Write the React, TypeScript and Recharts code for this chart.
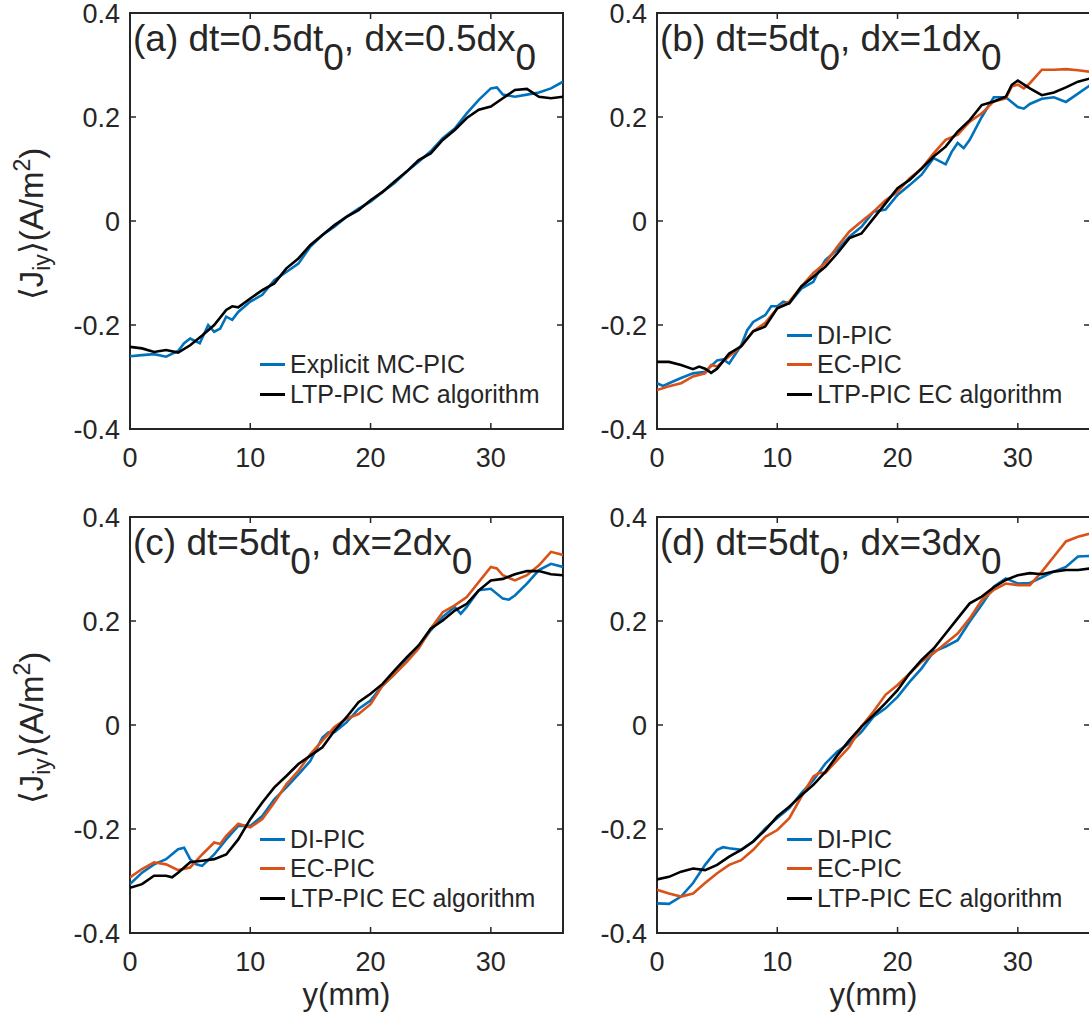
import React from "react";
import { LineChart, Line, XAxis, YAxis, ReferenceArea, Legend } from "recharts";

// ---------- data ----------
const xTicks = [0, 10, 20, 30];
const yTicks = [-0.4, -0.2, 0, 0.2, 0.4];

// (a) dt=0.5dt0, dx=0.5dx0
const aExplicit: [number, number][] = [
  [0, -0.26], [1, -0.258], [2, -0.256], [3, -0.261], [4, -0.25], [4.5, -0.235], [5, -0.226], [5.8, -0.235],
  [6.5, -0.2], [7, -0.213], [7.5, -0.207], [8, -0.184], [8.5, -0.19], [9, -0.175], [10, -0.155], [11, -0.142],
  [12, -0.114], [13, -0.098], [14, -0.082], [15, -0.049], [16, -0.027], [17, -0.011], [18, 0.008], [19, 0.024],
  [20, 0.037], [21, 0.056], [22, 0.073], [23, 0.095], [24, 0.114], [25, 0.134], [26, 0.159], [27, 0.178],
  [28, 0.207], [29, 0.233], [30, 0.255], [30.5, 0.257], [31, 0.243], [32, 0.239], [33, 0.243], [34, 0.247],
  [35, 0.255], [36, 0.268],
];
const aLtpMC: [number, number][] = [
  [0, -0.242], [1, -0.245], [2, -0.252], [3, -0.248], [4, -0.253], [5, -0.239], [6, -0.22], [7, -0.2],
  [8, -0.171], [8.5, -0.164], [9, -0.166], [10, -0.149], [11, -0.133], [12, -0.12], [13, -0.091], [14, -0.072],
  [15, -0.046], [16, -0.027], [17, -0.008], [18, 0.008], [19, 0.021], [20, 0.04], [21, 0.056], [22, 0.076],
  [23, 0.095], [24, 0.117], [25, 0.13], [26, 0.156], [27, 0.175], [28, 0.198], [29, 0.214], [30, 0.22],
  [31, 0.236], [32, 0.252], [33, 0.254], [34, 0.239], [35, 0.236], [36, 0.239],
];

// (b) dt=5dt0, dx=1dx0
const bDI: [number, number][] = [
  [0, -0.312], [0.5, -0.317], [1, -0.312], [2, -0.302], [3, -0.293], [4, -0.29], [5, -0.268], [5.5, -0.266],
  [6, -0.274], [7, -0.239], [7.5, -0.21], [8, -0.194], [9, -0.181], [9.5, -0.164], [10, -0.164], [10.5, -0.155],
  [11, -0.158], [12, -0.13], [13, -0.117], [13.5, -0.094], [14, -0.075], [15, -0.055], [16, -0.03], [17, -0.011],
  [18, 0.018], [19, 0.022], [20, 0.05], [21, 0.069], [22, 0.089], [23, 0.121], [24, 0.109], [24.5, 0.133],
  [25, 0.15], [25.5, 0.14], [26, 0.156], [27, 0.2], [28, 0.238], [29, 0.238], [30, 0.219], [30.5, 0.216],
  [31, 0.225], [32, 0.235], [33, 0.238], [34, 0.229], [35, 0.245], [36, 0.261],
];
const bEC: [number, number][] = [
  [0, -0.325], [1, -0.318], [2, -0.312], [3, -0.299], [4, -0.293], [4.5, -0.277], [5, -0.28], [6, -0.26],
  [7, -0.241], [8, -0.212], [9, -0.196], [10, -0.168], [11, -0.155], [12, -0.126], [13, -0.1], [14, -0.081],
  [15, -0.049], [16, -0.02], [17, -0.001], [18, 0.018], [19, 0.04], [20, 0.056], [21, 0.082], [22, 0.101],
  [23, 0.13], [24, 0.156], [25, 0.166], [26, 0.191], [27, 0.207], [28, 0.23], [29, 0.236], [29.5, 0.259],
  [30, 0.262], [30.5, 0.255], [31, 0.265], [32, 0.291], [33, 0.291], [34, 0.292], [35, 0.29], [36, 0.287],
];
const bLTP: [number, number][] = [
  [0, -0.271], [1, -0.271], [2, -0.277], [3, -0.285], [3.5, -0.28], [4, -0.284], [4.5, -0.292], [5, -0.284],
  [6, -0.255], [7, -0.241], [8, -0.212], [9, -0.203], [10, -0.168], [11, -0.158], [12, -0.126], [13, -0.107],
  [14, -0.088], [15, -0.062], [16, -0.033], [17, -0.024], [18, 0.005], [19, 0.034], [20, 0.063], [21, 0.079],
  [22, 0.101], [23, 0.124], [24, 0.143], [25, 0.172], [26, 0.194], [27, 0.223], [28, 0.23], [29, 0.239],
  [29.5, 0.262], [30, 0.27], [31, 0.255], [32, 0.242], [33, 0.247], [34, 0.257], [35, 0.268], [36, 0.274],
];

// (c) dt=5dt0, dx=2dx0
const cDI: [number, number][] = [
  [0, -0.306], [1, -0.284], [2, -0.268], [3, -0.258], [4, -0.239], [4.5, -0.236], [5, -0.258], [5.5, -0.268],
  [6, -0.271], [7, -0.249], [8, -0.22], [9, -0.194], [10, -0.194], [11, -0.175], [12, -0.143], [13, -0.12],
  [14, -0.095], [15, -0.069], [16, -0.024], [16.5, -0.014], [17, -0.014], [18, 0.005], [19, 0.031], [20, 0.047],
  [21, 0.076], [22, 0.098], [23, 0.124], [24, 0.15], [25, 0.182], [26, 0.208], [27, 0.227], [27.5, 0.214],
  [28, 0.227], [29, 0.259], [30, 0.262], [31, 0.243], [31.5, 0.241], [32, 0.249], [33, 0.272], [34, 0.298],
  [35, 0.31], [36, 0.304],
];
const cEC: [number, number][] = [
  [0, -0.293], [1, -0.277], [2, -0.264], [3, -0.268], [4, -0.279], [5, -0.274], [6, -0.249], [7, -0.226],
  [7.5, -0.229], [8, -0.213], [9, -0.19], [10, -0.197], [11, -0.181], [12, -0.149], [13, -0.114], [14, -0.088],
  [15, -0.056], [16, -0.03], [17, -0.004], [18, 0.012], [19, 0.021], [20, 0.04], [21, 0.076], [22, 0.098],
  [23, 0.121], [24, 0.147], [25, 0.185], [26, 0.217], [27, 0.23], [28, 0.246], [29, 0.275], [30, 0.304],
  [30.5, 0.301], [31, 0.288], [32, 0.278], [33, 0.288], [34, 0.307], [35, 0.333], [36, 0.327],
];
const cLTP: [number, number][] = [
  [0, -0.313], [1, -0.306], [2, -0.29], [3, -0.29], [3.5, -0.293], [4, -0.284], [5, -0.264], [6, -0.261],
  [7, -0.258], [8, -0.249], [9, -0.22], [10, -0.181], [11, -0.149], [12, -0.12], [13, -0.098], [14, -0.075],
  [15, -0.059], [16, -0.043], [17, -0.011], [18, 0.015], [19, 0.044], [20, 0.06], [21, 0.079], [22, 0.105],
  [23, 0.13], [24, 0.153], [25, 0.185], [26, 0.201], [27, 0.22], [28, 0.233], [29, 0.259], [30, 0.278],
  [31, 0.281], [32, 0.29], [33, 0.296], [34, 0.296], [35, 0.29], [36, 0.288],
];

// (d) dt=5dt0, dx=3dx0
const dDI: [number, number][] = [
  [0, -0.343], [1, -0.344], [2, -0.33], [3, -0.304], [4, -0.269], [5, -0.24], [5.5, -0.235], [6, -0.237],
  [7, -0.24], [8, -0.224], [9, -0.199], [10, -0.179], [11, -0.16], [12, -0.131], [13, -0.106], [14, -0.074],
  [15, -0.051], [16, -0.035], [17, -0.013], [18, 0.016], [19, 0.032], [20, 0.054], [21, 0.083], [22, 0.109],
  [23, 0.141], [24, 0.151], [25, 0.163], [26, 0.199], [27, 0.231], [28, 0.266], [29, 0.282], [30, 0.272],
  [31, 0.273], [32, 0.284], [33, 0.295], [34, 0.304], [35, 0.324], [36, 0.325],
];
const dEC: [number, number][] = [
  [0, -0.317], [1, -0.324], [2, -0.33], [3, -0.324], [4, -0.304], [5, -0.285], [6, -0.269], [7, -0.26],
  [8, -0.24], [9, -0.215], [10, -0.202], [11, -0.179], [12, -0.138], [13, -0.099], [13.5, -0.092], [14, -0.092],
  [15, -0.067], [16, -0.042], [17, -0.003], [18, 0.026], [19, 0.058], [20, 0.077], [21, 0.099], [22, 0.122],
  [23, 0.138], [24, 0.157], [25, 0.176], [26, 0.205], [27, 0.24], [28, 0.26], [29, 0.272], [30, 0.269],
  [31, 0.269], [32, 0.295], [33, 0.324], [34, 0.353], [35, 0.362], [36, 0.368],
];
const dLTP: [number, number][] = [
  [0, -0.297], [1, -0.292], [2, -0.282], [3, -0.276], [4, -0.279], [5, -0.269], [6, -0.253], [7, -0.24],
  [8, -0.224], [9, -0.202], [10, -0.176], [11, -0.157], [12, -0.135], [13, -0.115], [14, -0.09], [15, -0.058],
  [16, -0.029], [17, -0.003], [18, 0.019], [19, 0.042], [20, 0.067], [21, 0.099], [22, 0.125], [23, 0.147],
  [24, 0.176], [25, 0.205], [26, 0.234], [27, 0.247], [28, 0.265], [29, 0.279], [30, 0.288], [31, 0.292],
  [32, 0.29], [33, 0.295], [34, 0.298], [35, 0.298], [36, 0.301],
];

const titleA = ["(a) dt=0.5dt", "0", ", dx=0.5dx", "0"];
const titleB = ["(b) dt=5dt", "0", ", dx=1dx", "0"];
const titleC = ["(c) dt=5dt", "0", ", dx=2dx", "0"];
const titleD = ["(d) dt=5dt", "0", ", dx=3dx", "0"];

// ---------- style ----------
const BLUE = "#0072BD";
const ORANGE = "#D95319";
const BLACK = "#000000";
const AXIS = "#262626";
const FONT = '"Liberation Sans", Arial, Helvetica, sans-serif';

const PLOT_LEFT = 130;
const PLOT_TOP = 13;
const PLOT_W = 433;
const PLOT_H = 416;
const PLOT_RIGHT = PLOT_LEFT + PLOT_W;
const PLOT_BOTTOM = PLOT_TOP + PLOT_H;
const CHART_W = PLOT_RIGHT + 12;
const CHART_H = 520;
const YAXIS_W = 60;

type Series = { name: string; color: string; pts: [number, number][] };
type PanelCfg = {
  left: number;
  top: number;
  title: string[];
  series: Series[];
  xLabel: boolean;
  yLabel: boolean;
};

const panels: PanelCfg[] = [
  {
    left: 130, top: 13, title: titleA, xLabel: false, yLabel: true,
    series: [
      { name: "Explicit MC-PIC", color: BLUE, pts: aExplicit },
      { name: "LTP-PIC MC algorithm", color: BLACK, pts: aLtpMC },
    ],
  },
  {
    left: 657, top: 13, title: titleB, xLabel: false, yLabel: false,
    series: [
      { name: "DI-PIC", color: BLUE, pts: bDI },
      { name: "EC-PIC", color: ORANGE, pts: bEC },
      { name: "LTP-PIC EC algorithm", color: BLACK, pts: bLTP },
    ],
  },
  {
    left: 130, top: 517, title: titleC, xLabel: true, yLabel: true,
    series: [
      { name: "DI-PIC", color: BLUE, pts: cDI },
      { name: "EC-PIC", color: ORANGE, pts: cEC },
      { name: "LTP-PIC EC algorithm", color: BLACK, pts: cLTP },
    ],
  },
  {
    left: 657, top: 517, title: titleD, xLabel: true, yLabel: false,
    series: [
      { name: "DI-PIC", color: BLUE, pts: dDI },
      { name: "EC-PIC", color: ORANGE, pts: dEC },
      { name: "LTP-PIC EC algorithm", color: BLACK, pts: dLTP },
    ],
  },
];

const fmt = (v: number) => (Math.abs(v) < 1e-9 ? "0" : String(v));

const XTick = (props: any) => {
  const { x, payload } = props;
  return (
    <g>
      <line x1={x} x2={x} y1={PLOT_BOTTOM} y2={PLOT_BOTTOM - 6} stroke={AXIS} strokeWidth={1.5} />
      <line x1={x} x2={x} y1={PLOT_TOP} y2={PLOT_TOP + 6} stroke={AXIS} strokeWidth={1.5} />
      <text x={x} y={PLOT_BOTTOM + 38} textAnchor="middle" fill={AXIS} fontSize={27} fontFamily={FONT}>
        {fmt(payload.value)}
      </text>
    </g>
  );
};

const YTick = (props: any) => {
  const { y, payload } = props;
  return (
    <g>
      <line x1={PLOT_LEFT} x2={PLOT_LEFT + 6} y1={y} y2={y} stroke={AXIS} strokeWidth={1.5} />
      <line x1={PLOT_RIGHT} x2={PLOT_RIGHT - 6} y1={y} y2={y} stroke={AXIS} strokeWidth={1.5} />
      <text x={PLOT_LEFT - 10} y={y + 10} textAnchor="end" fill={AXIS} fontSize={27} fontFamily={FONT}>
        {fmt(payload.value)}
      </text>
    </g>
  );
};

const LegendContent = (props: any) => {
  const items = props.payload || [];
  return (
    <div style={{ fontFamily: FONT }}>
      {items.map((it: any, i: number) => (
        <div key={i} style={{ display: "flex", alignItems: "center", height: 29.5 }}>
          <div style={{ width: 25, height: 3, background: it.color }} />
          <span style={{ marginLeft: 5, fontSize: 25, color: AXIS, whiteSpace: "nowrap", lineHeight: "29px" }}>
            {it.value}
          </span>
        </div>
      ))}
    </div>
  );
};

const Panel = ({ cfg }: { cfg: PanelCfg }) => {
  const rows = cfg.series.length;
  const legendTop = PLOT_TOP + 396 - rows * 29.5;
  return (
    <div style={{ position: "absolute", left: cfg.left - PLOT_LEFT, top: cfg.top - PLOT_TOP }}>
      <LineChart
        width={CHART_W}
        height={CHART_H}
        margin={{ top: PLOT_TOP, left: PLOT_LEFT - YAXIS_W, right: CHART_W - PLOT_RIGHT, bottom: 0 }}
      >
        <XAxis
          type="number"
          dataKey="x"
          domain={[0, 36]}
          ticks={xTicks}
          interval={0}
          allowDataOverflow
          axisLine={false}
          tickLine={false}
          tickSize={0}
          tickMargin={0}
          height={CHART_H - PLOT_BOTTOM}
          tick={(p: any) => <XTick {...p} />}
        />
        <YAxis
          type="number"
          domain={[-0.4, 0.4]}
          ticks={yTicks}
          interval={0}
          allowDataOverflow
          axisLine={false}
          tickLine={false}
          tickSize={0}
          tickMargin={0}
          width={YAXIS_W}
          tick={(p: any) => <YTick {...p} />}
        />
        {cfg.series.map((s) => (
          <Line
            key={s.name}
            name={s.name}
            data={s.pts.map(([x, y]) => ({ x, y }))}
            dataKey="y"
            type="linear"
            stroke={s.color}
            strokeWidth={2.6}
            dot={false}
            activeDot={false}
            isAnimationActive={false}
          />
        ))}
        <ReferenceArea
          x1={0}
          x2={36}
          y1={-0.4}
          y2={0.4}
          fill="none"
          fillOpacity={0}
          stroke={AXIS}
          strokeWidth={2}
          ifOverflow="visible"
        />
        <Legend
          layout="vertical"
          align="center"
          verticalAlign="middle"
          content={(p: any) => <LegendContent {...p} />}
          wrapperStyle={{ left: PLOT_LEFT + 130, top: legendTop, width: "auto", margin: 0, padding: 0 }}
        />
      </LineChart>
    </div>
  );
};

const Overlay = () => (
  <svg
    width={1089}
    height={1024}
    style={{ position: "absolute", left: 0, top: 0, pointerEvents: "none" }}
    fontFamily={FONT}
  >
    {panels.map((p, i) => (
      <g key={i}>
        <text x={p.left + 3} y={p.top + 38} fontSize={37} fill={AXIS}>
          {p.title[0]}
          <tspan dy={19}>{p.title[1]}</tspan>
          <tspan dy={-19}>{p.title[2]}</tspan>
          <tspan dy={19}>{p.title[3]}</tspan>
        </text>
        {p.xLabel && (
          <text x={p.left + PLOT_W / 2} y={p.top + PLOT_H + 72} fontSize={31} fill={AXIS} textAnchor="middle">
            y(mm)
          </text>
        )}
        {p.yLabel && (
          <text
            transform={`translate(43, ${p.top + PLOT_H / 2 + 3}) rotate(-90)`}
            fontSize={33}
            fill={AXIS}
            textAnchor="middle"
          >
            {"\u27E8J"}
            <tspan fontSize={23} dy={7}>iy</tspan>
            <tspan dy={-7}>{"\u27E9(A/m"}</tspan>
            <tspan fontSize={23} dy={-13}>2</tspan>
            <tspan dy={13}>)</tspan>
          </text>
        )}
      </g>
    ))}
  </svg>
);

export default function App() {
  return (
    <div
      style={{
        position: "absolute",
        left: 0,
        top: 0,
        width: 1089,
        height: 1024,
        overflow: "hidden",
        background: "#ffffff",
      }}
    >
      {panels.map((p, i) => (
        <Panel key={i} cfg={p} />
      ))}
      <Overlay />
    </div>
  );
}
